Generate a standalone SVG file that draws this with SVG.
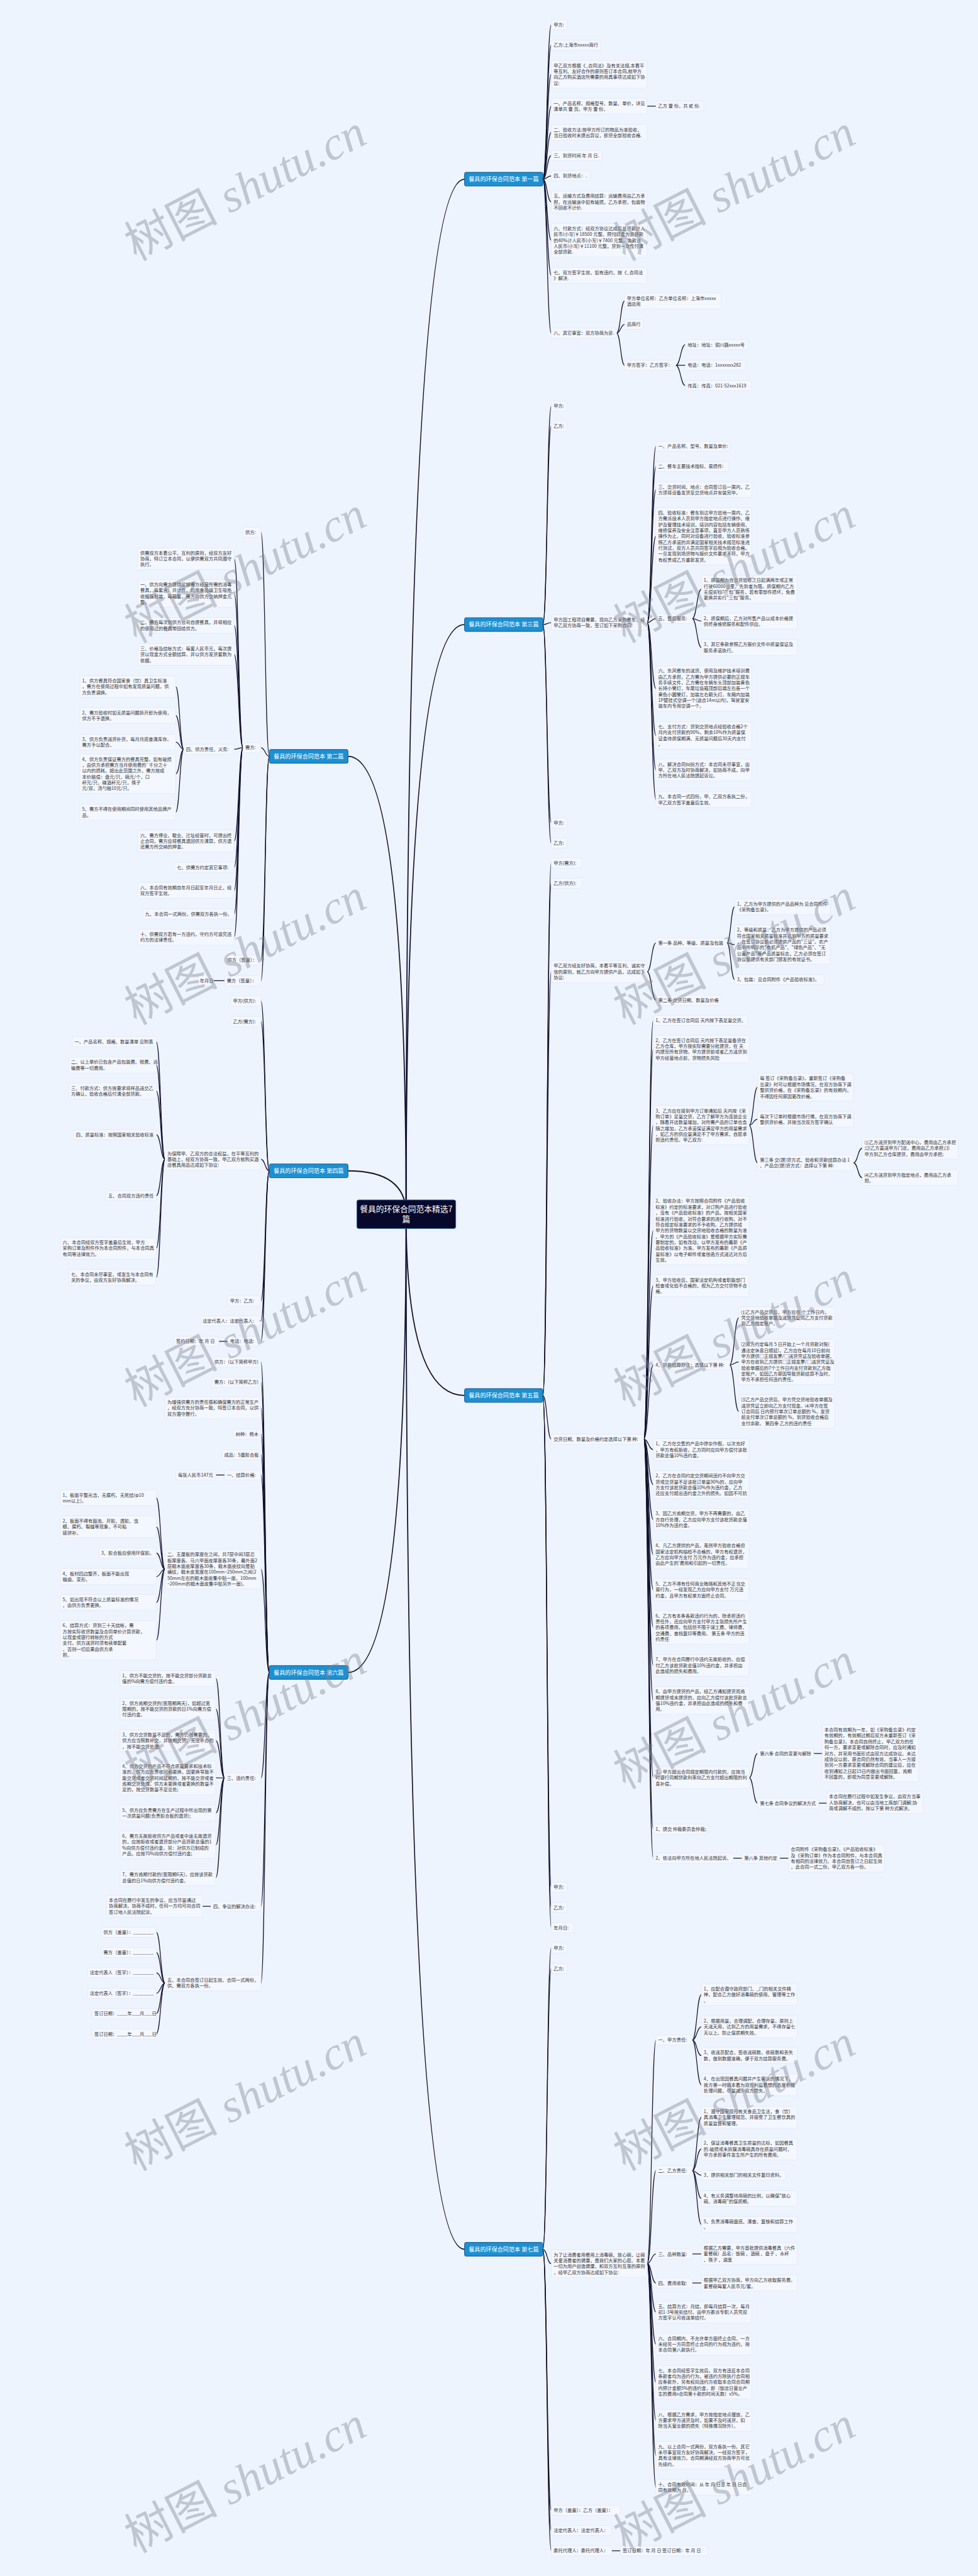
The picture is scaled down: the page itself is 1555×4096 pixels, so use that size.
<svg xmlns="http://www.w3.org/2000/svg" xmlns:xlink="http://www.w3.org/1999/xlink" width="1555" height="4096" viewBox="0 0 1555 4096">
<style>
.n rect{fill:#f3f7ff;stroke:#dde6f3;stroke-width:1;rx:4px}
.n text{font-family:"Noto Sans CJK SC","Noto Sans",sans-serif;font-size:12px;fill:#333}
.b rect{fill:#1d90d2;stroke:#0d4d80;stroke-width:1.5;rx:4px}
.b text{font-family:"Noto Sans CJK SC","Noto Sans",sans-serif;font-size:15px;fill:#fff;text-anchor:middle}
.c rect{fill:#08082a;stroke:#2d6db0;stroke-width:1.5;rx:5px}
.c text{font-family:"Noto Sans CJK SC","Noto Sans",sans-serif;font-size:21px;fill:#fff;text-anchor:middle}
.e path{fill:none;stroke:#12122e;stroke-width:2}
.m path{fill:none;stroke:#12122e;stroke-width:3}
.wm{font-family:"Liberation Serif","Noto Sans CJK SC",serif;font-size:122px;fill:#7d8390;opacity:0.4}
</style>
<defs>
<text id="wm" class="wm">树图 <tspan font-style="italic">shutu.cn</tspan></text>
</defs>
<rect width="1555" height="4096" fill="#eef4fe"/>
<g transform="scale(0.607422)">
<g id="connectors">
<g class="m">
<path d="M1063 3178Q1063 469 1216 469"/>
<path d="M1063 3178Q1063 1635 1216 1635"/>
<path d="M1063 3178Q1063 3653 1216 3653"/>
<path d="M1063 3178Q1063 5888 1216 5888"/>
<path d="M1063 3178Q1063 1980 911 1980"/>
<path d="M1063 3178Q1063 3065 911 3065"/>
<path d="M1063 3178Q1063 4378 911 4378"/>
</g>
<g class="e">
<path d="M1421 469C1432 469 1432 65.2 1443 65.2"/>
<path d="M1421 469C1432 469 1432 118.2 1443 118.2"/>
<path d="M1421 469C1432 469 1432 194.3 1443 194.3"/>
<path d="M1421 469C1432 469 1432 277.9 1443 277.9"/>
<path d="M1421 469C1432 469 1432 346.9 1443 346.9"/>
<path d="M1421 469C1432 469 1432 407.2 1443 407.2"/>
<path d="M1421 469C1432 469 1432 460.2 1443 460.2"/>
<path d="M1421 469C1432 469 1432 528.6 1443 528.6"/>
<path d="M1421 469C1432 469 1432 629 1443 629"/>
<path d="M1421 469C1432 469 1432 720.9 1443 720.9"/>
<path d="M1421 469C1432 469 1432 872.2 1443 872.2"/>
<path d="M1694 277.9H1717"/>
<path d="M1614 872.2C1624.5 872.2 1624.5 787.9 1635 787.9"/>
<path d="M1614 872.2C1624.5 872.2 1624.5 849.2 1635 849.2"/>
<path d="M1614 872.2C1624.5 872.2 1624.5 956.2 1635 956.2"/>
<path d="M1769 956.2C1781.5 956.2 1781.5 902.2 1794 902.2"/>
<path d="M1769 956.2H1794"/>
<path d="M1769 956.2C1781.5 956.2 1781.5 1009.2 1794 1009.2"/>

<path d="M1421 1635C1432 1635 1432 1063.2 1443 1063.2"/>
<path d="M1421 1635C1432 1635 1432 1115.2 1443 1115.2"/>
<path d="M1421 1635C1432 1635 1432 1629.9 1443 1629.9"/>
<path d="M1421 1635C1432 1635 1432 2154.2 1443 2154.2"/>
<path d="M1421 1635C1432 1635 1432 2207.2 1443 2207.2"/>
<path d="M1694 1629.9C1705.5 1629.9 1705.5 1168.2 1717 1168.2"/>
<path d="M1694 1629.9C1705.5 1629.9 1705.5 1221.2 1717 1221.2"/>
<path d="M1694 1629.9C1705.5 1629.9 1705.5 1281.9 1717 1281.9"/>
<path d="M1694 1629.9C1705.5 1629.9 1705.5 1403.8 1717 1403.8"/>
<path d="M1694 1629.9C1705.5 1629.9 1705.5 1619.2 1717 1619.2"/>
<path d="M1694 1629.9C1705.5 1629.9 1705.5 1802.4 1717 1802.4"/>
<path d="M1694 1629.9C1705.5 1629.9 1705.5 1925.3 1717 1925.3"/>
<path d="M1694 1629.9C1705.5 1629.9 1705.5 2015.6 1717 2015.6"/>
<path d="M1694 1629.9C1705.5 1629.9 1705.5 2092.9 1717 2092.9"/>
<path d="M1812 1619.2C1824 1619.2 1824 1542.3 1836 1542.3"/>
<path d="M1812 1619.2C1824 1619.2 1824 1625.9 1836 1625.9"/>
<path d="M1812 1619.2C1824 1619.2 1824 1694.9 1836 1694.9"/>

<path d="M1421 3653C1432 3653 1432 2259.2 1443 2259.2"/>
<path d="M1421 3653C1432 3653 1432 2312.2 1443 2312.2"/>
<path d="M1421 3653C1432 3653 1432 2543.6 1443 2543.6"/>
<path d="M1421 3653C1432 3653 1432 3767.2 1443 3767.2"/>
<path d="M1421 3653C1432 3653 1432 4940.2 1443 4940.2"/>
<path d="M1421 3653C1432 3653 1432 4993.2 1443 4993.2"/>
<path d="M1421 3653C1432 3653 1432 5046.2 1443 5046.2"/>
<path d="M1694 2543.6C1705.5 2543.6 1705.5 2468.2 1717 2468.2"/>
<path d="M1694 2543.6C1705.5 2543.6 1705.5 2618.2 1717 2618.2"/>
<path d="M1903 2468.2C1913 2468.2 1913 2373.9 1923 2373.9"/>
<path d="M1903 2468.2C1913 2468.2 1913 2472.7 1923 2472.7"/>
<path d="M1903 2468.2C1913 2468.2 1913 2564.2 1923 2564.2"/>
<path d="M1685 3767.2C1697.5 3767.2 1697.5 2671.2 1710 2671.2"/>
<path d="M1685 3767.2C1697.5 3767.2 1697.5 2746.3 1710 2746.3"/>
<path d="M1685 3767.2C1697.5 3767.2 1697.5 2945.7 1710 2945.7"/>
<path d="M1685 3767.2C1697.5 3767.2 1697.5 3221.2 1710 3221.2"/>
<path d="M1685 3767.2C1697.5 3767.2 1697.5 3365.6 1710 3365.6"/>
<path d="M1685 3767.2C1697.5 3767.2 1697.5 3573.2 1710 3573.2"/>
<path d="M1685 3767.2C1697.5 3767.2 1697.5 3794.6 1710 3794.6"/>
<path d="M1685 3767.2C1697.5 3767.2 1697.5 3886.3 1710 3886.3"/>
<path d="M1685 3767.2C1697.5 3767.2 1697.5 3977.6 1710 3977.6"/>
<path d="M1685 3767.2C1697.5 3767.2 1697.5 4069.3 1710 4069.3"/>
<path d="M1685 3767.2C1697.5 3767.2 1697.5 4161.6 1710 4161.6"/>
<path d="M1685 3767.2C1697.5 3767.2 1697.5 4260 1710 4260"/>
<path d="M1685 3767.2C1697.5 3767.2 1697.5 4359.6 1710 4359.6"/>
<path d="M1685 3767.2C1697.5 3767.2 1697.5 4451.3 1710 4451.3"/>
<path d="M1685 3767.2C1697.5 3767.2 1697.5 4653.6 1710 4653.6"/>
<path d="M1685 3767.2C1697.5 3767.2 1697.5 4788.2 1710 4788.2"/>
<path d="M1685 3767.2C1697.5 3767.2 1697.5 4864.2 1710 4864.2"/>
<path d="M1961 2945.7C1972 2945.7 1972 2846.3 1983 2846.3"/>
<path d="M1961 2945.7C1972 2945.7 1972 2929.9 1983 2929.9"/>
<path d="M1961 2945.7C1972 2945.7 1972 3043.9 1983 3043.9"/>
<path d="M2234 3043.9C2245.5 3043.9 2245.5 3005.6 2257 3005.6"/>
<path d="M2234 3043.9C2245.5 3043.9 2245.5 3082.9 2257 3082.9"/>
<path d="M1910 3573.2C1922 3573.2 1922 3449.6 1934 3449.6"/>
<path d="M1910 3573.2C1922 3573.2 1922 3565.4 1934 3565.4"/>
<path d="M1910 3573.2C1922 3573.2 1922 3695 1934 3695"/>
<path d="M1961 4653.6C1972 4653.6 1972 4590.2 1983 4590.2"/>
<path d="M1961 4653.6C1972 4653.6 1972 4720.2 1983 4720.2"/>
<path d="M2130 4590.2H2152"/>
<path d="M2143 4720.2H2164"/>
<path d="M1919 4864.2H1942"/>
<path d="M2041 4864.2H2064"/>

<path d="M1421 5888C1432 5888 1432 5099.2 1443 5099.2"/>
<path d="M1421 5888C1432 5888 1432 5153.2 1443 5153.2"/>
<path d="M1421 5888C1432 5888 1432 5925.3 1443 5925.3"/>
<path d="M1421 5888C1432 5888 1432 6571.2 1443 6571.2"/>
<path d="M1421 5888C1432 5888 1432 6624.2 1443 6624.2"/>
<path d="M1421 5888C1432 5888 1432 6677.2 1443 6677.2"/>
<path d="M1694 5925.3C1705.5 5925.3 1705.5 5340.2 1717 5340.2"/>
<path d="M1694 5925.3C1705.5 5925.3 1705.5 5682.2 1717 5682.2"/>
<path d="M1694 5925.3C1705.5 5925.3 1705.5 5900.2 1717 5900.2"/>
<path d="M1694 5925.3C1705.5 5925.3 1705.5 5976.2 1717 5976.2"/>
<path d="M1694 5925.3C1705.5 5925.3 1705.5 6052.6 1717 6052.6"/>
<path d="M1694 5925.3C1705.5 5925.3 1705.5 6136.6 1717 6136.6"/>
<path d="M1694 5925.3C1705.5 5925.3 1705.5 6236 1717 6236"/>
<path d="M1694 5925.3C1705.5 5925.3 1705.5 6335.6 1717 6335.6"/>
<path d="M1694 5925.3C1705.5 5925.3 1705.5 6427.3 1717 6427.3"/>
<path d="M1694 5925.3C1705.5 5925.3 1705.5 6510.9 1717 6510.9"/>
<path d="M1812 5340.2C1824 5340.2 1824 5221.6 1836 5221.6"/>
<path d="M1812 5340.2C1824 5340.2 1824 5305.6 1836 5305.6"/>
<path d="M1812 5340.2C1824 5340.2 1824 5380.9 1836 5380.9"/>
<path d="M1812 5340.2C1824 5340.2 1824 5457.6 1836 5457.6"/>
<path d="M1812 5682.2C1824 5682.2 1824 5542.6 1836 5542.6"/>
<path d="M1812 5682.2C1824 5682.2 1824 5625.6 1836 5625.6"/>
<path d="M1812 5682.2C1824 5682.2 1824 5694.2 1836 5694.2"/>
<path d="M1812 5682.2C1824 5682.2 1824 5754.9 1836 5754.9"/>
<path d="M1812 5682.2C1824 5682.2 1824 5822.9 1836 5822.9"/>
<path d="M1812 5900.2H1836"/>
<path d="M1812 5976.2H1836"/>
<path d="M1601 6677.2H1624"/>

<path d="M705 1980C694 1980 694 1393.2 683 1393.2"/>
<path d="M705 1980C694 1980 694 1957.2 683 1957.2"/>
<path d="M705 1980C694 1980 694 2513.2 683 2513.2"/>
<path d="M705 1980C694 1980 694 2567.2 683 2567.2"/>
<path d="M636 1957.2C624.5 1957.2 624.5 1462.6 613 1462.6"/>
<path d="M636 1957.2C624.5 1957.2 624.5 1553.3 613 1553.3"/>
<path d="M636 1957.2C624.5 1957.2 624.5 1636.9 613 1636.9"/>
<path d="M636 1957.2C624.5 1957.2 624.5 1713.6 613 1713.6"/>
<path d="M636 1957.2C624.5 1957.2 624.5 1961.2 613 1961.2"/>
<path d="M636 1957.2C624.5 1957.2 624.5 2201.6 613 2201.6"/>
<path d="M636 1957.2C624.5 1957.2 624.5 2270.2 613 2270.2"/>
<path d="M636 1957.2C624.5 1957.2 624.5 2330.9 613 2330.9"/>
<path d="M636 1957.2C624.5 1957.2 624.5 2392.2 613 2392.2"/>
<path d="M636 1957.2C624.5 1957.2 624.5 2452.9 613 2452.9"/>
<path d="M481 1961.2C470.5 1961.2 470.5 1797.6 460 1797.6"/>
<path d="M481 1961.2C470.5 1961.2 470.5 1872.9 460 1872.9"/>
<path d="M481 1961.2C470.5 1961.2 470.5 1942.9 460 1942.9"/>
<path d="M481 1961.2C470.5 1961.2 470.5 2025.7 460 2025.7"/>
<path d="M481 1961.2C470.5 1961.2 470.5 2125.9 460 2125.9"/>
<path d="M588 2567.2H559"/>

<path d="M705 3065C694 3065 694 2620.2 683 2620.2"/>
<path d="M705 3065C694 3065 694 2674.2 683 2674.2"/>
<path d="M705 3065C694 3065 694 3034.6 683 3034.6"/>
<path d="M705 3065C694 3065 694 3405.2 683 3405.2"/>
<path d="M705 3065C694 3065 694 3457.2 683 3457.2"/>
<path d="M705 3065C694 3065 694 3511.2 683 3511.2"/>
<path d="M432 3034.6C420.5 3034.6 420.5 2727.2 409 2727.2"/>
<path d="M432 3034.6C420.5 3034.6 420.5 2787.9 409 2787.9"/>
<path d="M432 3034.6C420.5 3034.6 420.5 2855.9 409 2855.9"/>
<path d="M432 3034.6C420.5 3034.6 420.5 2970.2 409 2970.2"/>
<path d="M432 3034.6C420.5 3034.6 420.5 3130.2 409 3130.2"/>
<path d="M432 3034.6C420.5 3034.6 420.5 3267.6 409 3267.6"/>
<path d="M432 3034.6C420.5 3034.6 420.5 3343.9 409 3343.9"/>
<path d="M596 3511.2H573"/>

<path d="M705 4378C694 4378 694 3565.2 683 3565.2"/>
<path d="M705 4378C694 4378 694 3618.2 683 3618.2"/>
<path d="M705 4378C694 4378 694 3685.6 683 3685.6"/>
<path d="M705 4378C694 4378 694 3754.2 683 3754.2"/>
<path d="M705 4378C694 4378 694 3808.2 683 3808.2"/>
<path d="M705 4378C694 4378 694 3861.2 683 3861.2"/>
<path d="M705 4378C694 4378 694 4107.7 683 4107.7"/>
<path d="M705 4378C694 4378 694 4654.2 683 4654.2"/>
<path d="M705 4378C694 4378 694 4990.2 683 4990.2"/>
<path d="M705 4378C694 4378 694 5190.9 683 5190.9"/>
<path d="M588 3861.2H565"/>
<path d="M432 4107.7C420.5 4107.7 420.5 3920.9 409 3920.9"/>
<path d="M432 4107.7C420.5 4107.7 420.5 3996.6 409 3996.6"/>
<path d="M432 4107.7C420.5 4107.7 420.5 4065.2 409 4065.2"/>
<path d="M432 4107.7C420.5 4107.7 420.5 4126.9 409 4126.9"/>
<path d="M432 4107.7C420.5 4107.7 420.5 4194.9 409 4194.9"/>
<path d="M432 4107.7C420.5 4107.7 420.5 4293.7 409 4293.7"/>
<path d="M588 4654.2C576.5 4654.2 576.5 4393.9 565 4393.9"/>
<path d="M588 4654.2C576.5 4654.2 576.5 4473.6 565 4473.6"/>
<path d="M588 4654.2C576.5 4654.2 576.5 4556.6 565 4556.6"/>
<path d="M588 4654.2C576.5 4654.2 576.5 4654 565 4654"/>
<path d="M588 4654.2C576.5 4654.2 576.5 4745.9 565 4745.9"/>
<path d="M588 4654.2C576.5 4654.2 576.5 4829.3 565 4829.3"/>
<path d="M588 4654.2C576.5 4654.2 576.5 4914.9 565 4914.9"/>
<path d="M552 4990.2H530"/>
<path d="M432 5190.9C420.5 5190.9 420.5 5058.2 409 5058.2"/>
<path d="M432 5190.9C420.5 5190.9 420.5 5111.2 409 5111.2"/>
<path d="M432 5190.9C420.5 5190.9 420.5 5164.2 409 5164.2"/>
<path d="M432 5190.9C420.5 5190.9 420.5 5218.2 409 5218.2"/>
<path d="M432 5190.9C420.5 5190.9 420.5 5271.2 409 5271.2"/>
<path d="M432 5190.9C420.5 5190.9 420.5 5324.2 409 5324.2"/>
</g>
</g>

<g id="center" class="c"><rect x="934" y="3141" width="259" height="75"/><text><tspan x="1063.5" y="3172">餐具的环保合同范本精选7</tspan><tspan x="1063.5" y="3199">篇</tspan></text></g>

<g id="b1" class="b"><rect x="1216" y="451" width="205" height="36"/><text x="1318.5" y="474.5">餐具的环保合同范本 第一篇</text></g>
<g id="b3" class="b"><rect x="1216" y="1617" width="205" height="36"/><text x="1318.5" y="1640.5">餐具的环保合同范本 第三篇</text></g>
<g id="b5" class="b"><rect x="1216" y="3635" width="205" height="36"/><text x="1318.5" y="3658.5">餐具的环保合同范本 第五篇</text></g>
<g id="b7" class="b"><rect x="1216" y="5870" width="205" height="36"/><text x="1318.5" y="5893.5">餐具的环保合同范本 第七篇</text></g>
<g id="b2" class="b"><rect x="705" y="1962" width="206" height="36"/><text x="808" y="1985.5">餐具的环保合同范本 第二篇</text></g>
<g id="b4" class="b"><rect x="705" y="3047" width="206" height="36"/><text x="808" y="3070.5">餐具的环保合同范本 第四篇</text></g>
<g id="b6" class="b"><rect x="705" y="4360" width="206" height="36"/><text x="808" y="4383.5">餐具的环保合同范本 第六篇</text></g>

<!-- Article 1 -->
<g id="a1-1" class="n" transform="translate(1443,52)"><rect width="42" height="26.4"/><text><tspan x="6" y="17.5">甲方:</tspan></text></g>
<g id="a1-2" class="n" transform="translate(1443,105)"><rect width="129" height="26.4"/><text><tspan x="6" y="17.5">乙方:上海市xxxxx商行</tspan></text></g>
<g id="a1-3" class="n" transform="translate(1443,158)"><rect width="251" height="72.6"/><text><tspan x="6" y="17.5">甲乙双方根据《_合同法》及有关法规,本着平</tspan><tspan x="6" dy="15.4">等互利、友好合作的原则签订本合同,就甲方</tspan><tspan x="6" dy="15.4">向乙方购买酒店所需要的用具事项达成如下协</tspan><tspan x="6" dy="15.4">议:</tspan></text></g>
<g id="a1-4" class="n" transform="translate(1443,257)"><rect width="251" height="41.8"/><text><tspan x="6" y="17.5">一、产品名称、规格型号、数量、单价，详见</tspan><tspan x="6" dy="15.4">清单共 壹 页。甲方 壹 份，</tspan></text></g>
<g id="a1-4a" class="n" transform="translate(1717,264.7)"><rect width="125" height="26.4"/><text><tspan x="6" y="17.5">乙方 壹 份，共 贰 份.</tspan></text></g>
<g id="a1-5" class="n" transform="translate(1443,326)"><rect width="251" height="41.8"/><text><tspan x="6" y="17.5">二、验收方法:按甲方所订的物品为准验收，</tspan><tspan x="6" dy="15.4">当日验收时未提出异议，即货全部验收合格.</tspan></text></g>
<g id="a1-6" class="n" transform="translate(1443,394)"><rect width="133" height="26.4"/><text><tspan x="6" y="17.5">三、到货时间 年 月 日.</tspan></text></g>
<g id="a1-7" class="n" transform="translate(1443,447)"><rect width="102" height="26.4"/><text><tspan x="6" y="17.5">四、到货地点：.</tspan></text></g>
<g id="a1-8" class="n" transform="translate(1443,500)"><rect width="251" height="57.2"/><text><tspan x="6" y="17.5">五、运输方式及费用结算：运输费用由乙方承</tspan><tspan x="6" dy="15.4">担，在运输途中如有破损，乙方承担，包装物</tspan><tspan x="6" dy="15.4">不回收不计价.</tspan></text></g>
<g id="a1-9" class="n" transform="translate(1443,585)"><rect width="251" height="88"/><text><tspan x="6" y="17.5">六、付款方式：经双方协议达成后总货款计人</tspan><tspan x="6" dy="15.4">民币(小写)￥18500 元整。预付订金为总货款</tspan><tspan x="6" dy="15.4">的40%计人民币(小写)￥7400 元整，余款计</tspan><tspan x="6" dy="15.4">人民币(小写)￥11100 元整，货到一次性付清</tspan><tspan x="6" dy="15.4">全部货款.</tspan></text></g>
<g id="a1-10" class="n" transform="translate(1443,700)"><rect width="251" height="41.8"/><text><tspan x="6" y="17.5">七、双方签字生效，如有违约，按《_合同法</tspan><tspan x="6" dy="15.4">》解决.</tspan></text></g>
<g id="a1-11" class="n" transform="translate(1443,859)"><rect width="171" height="26.4"/><text><tspan x="6" y="17.5">八、其它事宜：双方协商为妥.</tspan></text></g>
<g id="a1-11a" class="n" transform="translate(1635,767)"><rect width="252" height="41.8"/><text><tspan x="6" y="17.5">甲方单位名称：乙方单位名称：上海市xxxxx</tspan><tspan x="6" dy="15.4">酒店用</tspan></text></g>
<g id="a1-11b" class="n" transform="translate(1635,836)"><rect width="49" height="26.4"/><text><tspan x="6" y="17.5">品商行</tspan></text></g>
<g id="a1-11c" class="n" transform="translate(1635,943)"><rect width="134" height="26.4"/><text><tspan x="6" y="17.5">甲方签字：乙方签字：</tspan></text></g>
<g id="a1-11c1" class="n" transform="translate(1794,889)"><rect width="164" height="26.4"/><text><tspan x="6" y="17.5">地址：地址：铜川路xxxxx号</tspan></text></g>
<g id="a1-11c2" class="n" transform="translate(1794,943)"><rect width="157" height="26.4"/><text><tspan x="6" y="17.5">电话：电话：1xxxxxxx282</tspan></text></g>
<g id="a1-11c3" class="n" transform="translate(1794,996)"><rect width="173" height="26.4"/><text><tspan x="6" y="17.5">传真：传真：021-52xxx1619</tspan></text></g>

<!-- Article 3 -->
<g id="a3-1" class="n" transform="translate(1443,1050)"><rect width="42" height="26.4"/><text><tspan x="6" y="17.5">甲方:</tspan></text></g>
<g id="a3-2" class="n" transform="translate(1443,1102)"><rect width="42" height="26.4"/><text><tspan x="6" y="17.5">乙方:</tspan></text></g>
<g id="a3-3" class="n" transform="translate(1443,1609)"><rect width="251" height="41.8"/><text><tspan x="6" y="17.5">甲方因工程项目需要，现向乙方采购餐车，经</tspan><tspan x="6" dy="15.4">甲乙双方协商一致，签订如下采购合同:</tspan></text></g>
<g id="a3-3a" class="n" transform="translate(1717,1155)"><rect width="194" height="26.4"/><text><tspan x="6" y="17.5">一、产品名称、型号、数量及单价:</tspan></text></g>
<g id="a3-3b" class="n" transform="translate(1717,1208)"><rect width="191" height="26.4"/><text><tspan x="6" y="17.5">二、餐车主要技术指标、易损件:</tspan></text></g>
<g id="a3-3c" class="n" transform="translate(1717,1261)"><rect width="251" height="41.8"/><text><tspan x="6" y="17.5">三、交货时间、地点：合同签订后一周内，乙</tspan><tspan x="6" dy="15.4">方须将设备发货至交货地点并安装完毕。</tspan></text></g>
<g id="a3-3d" class="n" transform="translate(1717,1329)"><rect width="251" height="149.6"/><text><tspan x="6" y="17.5">四、验收标准：餐车到达甲方驻地一周内，乙</tspan><tspan x="6" dy="15.4">方需派技术人员到甲方指定地点进行操作、维</tspan><tspan x="6" dy="15.4">护及管理技术培训，培训内容包括车辆使用、</tspan><tspan x="6" dy="15.4">维修保养及安全注意事项，直至甲方人员熟练</tspan><tspan x="6" dy="15.4">操作为止。同时对设备进行验收，验收标准参</tspan><tspan x="6" dy="15.4">照乙方承诺的并满足国家相关技术规范标准进</tspan><tspan x="6" dy="15.4">行测试，双方人员共同签字后视为验收合格。</tspan><tspan x="6" dy="15.4">一旦发现到场货物与报价文件要求不符，甲方</tspan><tspan x="6" dy="15.4">有权责成乙方重新发货。</tspan></text></g>
<g id="a3-3e" class="n" transform="translate(1717,1606)"><rect width="95" height="26.4"/><text><tspan x="6" y="17.5">五、售后服务:</tspan></text></g>
<g id="a3-3e1" class="n" transform="translate(1836,1506)"><rect width="251" height="72.6"/><text><tspan x="6" y="17.5">1、质保期为自交货验收之日起满两年或正常</tspan><tspan x="6" dy="15.4">行驶60000公里，先到者为限。质保期内乙方</tspan><tspan x="6" dy="15.4">无偿实行"三包"服务，若有零部件损坏，免费</tspan><tspan x="6" dy="15.4">更换并实行"三包"服务。</tspan></text></g>
<g id="a3-3e2" class="n" transform="translate(1836,1605)"><rect width="251" height="41.8"/><text><tspan x="6" y="17.5">2、质保期后，乙方对所售产品以成本价格提</tspan><tspan x="6" dy="15.4">供终身维修服务和配件供应。</tspan></text></g>
<g id="a3-3e3" class="n" transform="translate(1836,1674)"><rect width="251" height="41.8"/><text><tspan x="6" y="17.5">3、其它条款参照乙方报价文件中质量保证及</tspan><tspan x="6" dy="15.4">服务承诺执行。</tspan></text></g>
<g id="a3-3f" class="n" transform="translate(1717,1743)"><rect width="251" height="118.8"/><text><tspan x="6" y="17.5">六、东风餐车的送货、使用及维护技术培训费</tspan><tspan x="6" dy="15.4">由乙方承担，乙方需为甲方提供必要的正规车</tspan><tspan x="6" dy="15.4">务手续文件，乙方需在车辆车头顶部加装黄色</tspan><tspan x="6" dy="15.4">长排小警灯，车尾垃圾箱顶部后端左右各一个</tspan><tspan x="6" dy="15.4">黄色小圆警灯，加装左右箭头灯。车厢内加装</tspan><tspan x="6" dy="15.4">1P壁挂式空调一个(适合14m以内)，驾驶室安</tspan><tspan x="6" dy="15.4">装车内专用空调一个。</tspan></text></g>
<g id="a3-3g" class="n" transform="translate(1717,1889)"><rect width="251" height="72.6"/><text><tspan x="6" y="17.5">七、支付方式：货到交货地点经验收合格2个</tspan><tspan x="6" dy="15.4">月内支付货款的90%，剩余10%作为质量保</tspan><tspan x="6" dy="15.4">证金待质保期满、无质量问题后30天内支付</tspan><tspan x="6" dy="15.4">。</tspan></text></g>
<g id="a3-3h" class="n" transform="translate(1717,1987)"><rect width="251" height="57.2"/><text><tspan x="6" y="17.5">八、解决合同纠纷方式：本合同未尽事宜，由</tspan><tspan x="6" dy="15.4">甲、乙双方及时协商解决，如协商不成，向甲</tspan><tspan x="6" dy="15.4">方所在地人民法院提起诉讼。</tspan></text></g>
<g id="a3-3i" class="n" transform="translate(1717,2072)"><rect width="251" height="41.8"/><text><tspan x="6" y="17.5">九、本合同一式四份，甲、乙双方各执二份，</tspan><tspan x="6" dy="15.4">甲乙双方签字盖章后生效。</tspan></text></g>
<g id="a3-4" class="n" transform="translate(1443,2141)"><rect width="42" height="26.4"/><text><tspan x="6" y="17.5">甲方:</tspan></text></g>
<g id="a3-5" class="n" transform="translate(1443,2194)"><rect width="42" height="26.4"/><text><tspan x="6" y="17.5">乙方:</tspan></text></g>

<!-- Article 5 -->
<g id="a5-1" class="n" transform="translate(1443,2246)"><rect width="80" height="26.4"/><text><tspan x="6" y="17.5">甲方(需方):</tspan></text></g>
<g id="a5-2" class="n" transform="translate(1443,2299)"><rect width="80" height="26.4"/><text><tspan x="6" y="17.5">乙方(供方):</tspan></text></g>
<g id="a5-3" class="n" transform="translate(1443,2515)"><rect width="251" height="57.2"/><text><tspan x="6" y="17.5">甲乙双方经友好协商，本着平等互利、诚实守</tspan><tspan x="6" dy="15.4">信的原则，就乙方向甲方提供产品，达成如下</tspan><tspan x="6" dy="15.4">协议:</tspan></text></g>
<g id="a5-3a" class="n" transform="translate(1717,2455)"><rect width="186" height="26.4"/><text><tspan x="6" y="17.5">第一条 品种、等级、质量及包装</tspan></text></g>
<g id="a5-3a1" class="n" transform="translate(1923,2353)"><rect width="251" height="41.8"/><text><tspan x="6" y="17.5">1、乙方为甲方提供的产品品种为 见合同附件</tspan><tspan x="6" dy="15.4">《采购备忘录》。</tspan></text></g>
<g id="a5-3a2" class="n" transform="translate(1923,2421)"><rect width="251" height="103.4"/><text><tspan x="6" y="17.5">2、等级和质量：乙方为甲方提供的产品必须</tspan><tspan x="6" dy="15.4">符合国家相关质量标准并达到甲方的质量要求</tspan><tspan x="6" dy="15.4">，在签订协议前必须提供产品的"三证"。农产</tspan><tspan x="6" dy="15.4">品中所明示的"有机产品"、"绿色产品"、"无</tspan><tspan x="6" dy="15.4">公害产品"等产品质量标志，乙方必须在签订</tspan><tspan x="6" dy="15.4">协议前提供有关部门颁发的有效证书。</tspan></text></g>
<g id="a5-3a3" class="n" transform="translate(1923,2551)"><rect width="234" height="26.4"/><text><tspan x="6" y="17.5">3、包装：见合同附件《产品验收标准》。</tspan></text></g>
<g id="a5-3b" class="n" transform="translate(1717,2605)"><rect width="171" height="26.4"/><text><tspan x="6" y="17.5">第二条 交货日期、数量及价格</tspan></text></g>
<g id="a5-4" class="n" transform="translate(1443,3754)"><rect width="242" height="26.4"/><text><tspan x="6" y="17.5">交货日期、数量及价格约定选择以下第 种:</tspan></text></g>
<g id="a5-4a" class="n" transform="translate(1710,2658)"><rect width="248" height="26.4"/><text><tspan x="6" y="17.5">1、乙方在签订合同后 天内按下表足量交货。</tspan></text></g>
<g id="a5-4b" class="n" transform="translate(1710,2710)"><rect width="251" height="72.6"/><text><tspan x="6" y="17.5">2、乙方在签订合同后 天内按下表足量备货在</tspan><tspan x="6" dy="15.4">乙方仓库，甲方按实际需要分批提货，在 天</tspan><tspan x="6" dy="15.4">内提完所有货物。甲方提货前或者乙方送货到</tspan><tspan x="6" dy="15.4">甲方经营地点前，货物损失风险</tspan></text></g>
<g id="a5-4c" class="n" transform="translate(1710,2894)"><rect width="251" height="103.4"/><text><tspan x="6" y="17.5">3、乙方应在接到甲方订单通知后 天内按《采</tspan><tspan x="6" dy="15.4">购订单》足量交货，乙方了解甲方为连锁企业</tspan><tspan x="6" dy="15.4">，随着开店数量增加，对所需产品的订单也会</tspan><tspan x="6" dy="15.4">随之增加，乙方承诺保证满足甲方的用量需求</tspan><tspan x="6" dy="15.4">，如乙方的供应量满足不了甲方需求，自愿承</tspan><tspan x="6" dy="15.4">担违约责任。甲乙双方:</tspan></text></g>
<g id="a5-4c1" class="n" transform="translate(1983,2810)"><rect width="251" height="72.6"/><text><tspan x="6" y="17.5">每 签订《采购备忘录》，重新签订《采购备</tspan><tspan x="6" dy="15.4">忘录》时可以根据市场情况，在双方协商下调</tspan><tspan x="6" dy="15.4">整供货价格，在《采购备忘录》的有效期内，</tspan><tspan x="6" dy="15.4">不得因任何原因更改价格。</tspan></text></g>
<g id="a5-4c2" class="n" transform="translate(1983,2909)"><rect width="251" height="41.8"/><text><tspan x="6" y="17.5">每次下订单时根据市场行情，在双方协商下调</tspan><tspan x="6" dy="15.4">整供货价格，并按当次双方签字确认</tspan></text></g>
<g id="a5-4c3" class="n" transform="translate(1983,3023)"><rect width="251" height="41.8"/><text><tspan x="6" y="17.5">第三条 交(提)货方式、验收和货款结算办法 1</tspan><tspan x="6" dy="15.4">、产品交(提)货方式：选择以下第 种:</tspan></text></g>
<g id="a5-4c3a" class="n" transform="translate(2257,2977)"><rect width="251" height="57.2"/><text><tspan x="6" y="17.5">⑴乙方送货到甲方配送中心，费用由乙方承担</tspan><tspan x="6" dy="15.4">;⑵乙方直送甲方门店，费用由乙方承担;⑶</tspan><tspan x="6" dy="15.4">甲方到乙方仓库提货，费用由甲方承担;</tspan></text></g>
<g id="a5-4c3b" class="n" transform="translate(2257,3062)"><rect width="251" height="41.8"/><text><tspan x="6" y="17.5">⑷乙方送货到甲方指定地点，费用由乙方承</tspan><tspan x="6" dy="15.4">担。</tspan></text></g>
<g id="a5-4d" class="n" transform="translate(1710,3131)"><rect width="251" height="180.4"/><text><tspan x="6" y="17.5">2、验收办法：甲方按照合同附件《产品验收</tspan><tspan x="6" dy="15.4">标准》约定的标准要求，对订购产品进行验收</tspan><tspan x="6" dy="15.4">，没有《产品验收标准》的产品，按相关国家</tspan><tspan x="6" dy="15.4">标准进行验收，对符合要求的进行收购，对不</tspan><tspan x="6" dy="15.4">符合规定标准要求的不予收购。乙方提供给</tspan><tspan x="6" dy="15.4">甲方的货物数量以交货地验收合格的数量为准</tspan><tspan x="6" dy="15.4">。甲方的《产品验收标准》是根据甲方实际需</tspan><tspan x="6" dy="15.4">要制定的，如有改动，以甲方发布的最新《产</tspan><tspan x="6" dy="15.4">品验收标准》为准。甲方发布的最新《产品质</tspan><tspan x="6" dy="15.4">量标准》以电子邮件或者信函方式送达对方后</tspan><tspan x="6" dy="15.4">生效。</tspan></text></g>
<g id="a5-4e" class="n" transform="translate(1710,3337)"><rect width="251" height="57.2"/><text><tspan x="6" y="17.5">3、甲方验收后，国家法定机构或者职能部门</tspan><tspan x="6" dy="15.4">检查或化验不合格的，视为乙方交付货物不合</tspan><tspan x="6" dy="15.4">格。</tspan></text></g>
<g id="a5-4f" class="n" transform="translate(1710,3560)"><rect width="200" height="26.4"/><text><tspan x="6" y="17.5">4、货款结算办法：选择以下第 种:</tspan></text></g>
<g id="a5-4f1" class="n" transform="translate(1934,3421)"><rect width="251" height="57.2"/><text><tspan x="6" y="17.5">⑴乙方产品交货后，甲方应在 个工作日内，</tspan><tspan x="6" dy="15.4">凭交货地验收单据及送货凭证向乙方支付货款</tspan><tspan x="6" dy="15.4">到乙方指定账户。</tspan></text></g>
<g id="a5-4f2" class="n" transform="translate(1934,3506)"><rect width="251" height="118.8"/><text><tspan x="6" y="17.5">⑵双方约定每月 5 日开始上一个月货款对账(</tspan><tspan x="6" dy="15.4">遇法定休息日顺延)，乙方应在每月10日前向</tspan><tspan x="6" dy="15.4">甲方提供□正规发票/□送货凭证及验收单据，</tspan><tspan x="6" dy="15.4">甲方在收到乙方提供□正规发票/□送货凭证及</tspan><tspan x="6" dy="15.4">验收单据后的7个工作日内支付货款到乙方指</tspan><tspan x="6" dy="15.4">定账户。如因乙方原因导致货款结算不及时，</tspan><tspan x="6" dy="15.4">甲方不承担任何违约责任。</tspan></text></g>
<g id="a5-4f3" class="n" transform="translate(1934,3651)"><rect width="251" height="88"/><text><tspan x="6" y="17.5">⑶乙方产品交货后，甲方凭交货地验收单据及</tspan><tspan x="6" dy="15.4">送货凭证立即向乙方支付现金。⑷甲方在签</tspan><tspan x="6" dy="15.4">订合同后 日内预付单次订单总额的 %，发货</tspan><tspan x="6" dy="15.4">前支付单次订单总额的 %，到货验收合格后</tspan><tspan x="6" dy="15.4">支付余款。 第四条 乙方的违约责任</tspan></text></g>
<g id="a5-4g" class="n" transform="translate(1710,3766)"><rect width="251" height="57.2"/><text><tspan x="6" y="17.5">1、乙方在交售的产品中掺杂作假，以次充好</tspan><tspan x="6" dy="15.4">，甲方有权拒收，乙方同时应向甲方偿付该批</tspan><tspan x="6" dy="15.4">货款总值10%违约金。</tspan></text></g>
<g id="a5-4h" class="n" transform="translate(1710,3850)"><rect width="251" height="72.6"/><text><tspan x="6" y="17.5">2、乙方在合同约定交货期间违约不向甲方交</tspan><tspan x="6" dy="15.4">货或交货量不足该批订单量90%的，应向甲</tspan><tspan x="6" dy="15.4">方支付该批货款总值10%作为违约金，乙方</tspan><tspan x="6" dy="15.4">还应支付超出违约金之外的损失。如因不可抗</tspan></text></g>
<g id="a5-4i" class="n" transform="translate(1710,3949)"><rect width="251" height="57.2"/><text><tspan x="6" y="17.5">3、因乙方逾期交货，甲方不再需要的，由乙</tspan><tspan x="6" dy="15.4">方自行处理，乙方应向甲方支付该批货款总值</tspan><tspan x="6" dy="15.4">10%作为违约金。</tspan></text></g>
<g id="a5-4j" class="n" transform="translate(1710,4033)"><rect width="251" height="72.6"/><text><tspan x="6" y="17.5">4、凡乙方提供的产品，虽然甲方验收合格但</tspan><tspan x="6" dy="15.4">国家法定机构抽检不合格的，甲方有权退货，</tspan><tspan x="6" dy="15.4">乙方应向甲方支付 万元作为违约金，应承担</tspan><tspan x="6" dy="15.4">由此产生的'费用和引起的一切责任。</tspan></text></g>
<g id="a5-4k" class="n" transform="translate(1710,4133)"><rect width="251" height="57.2"/><text><tspan x="6" y="17.5">5、乙方不得有任何商业贿赂和其他不正当交</tspan><tspan x="6" dy="15.4">易行为，一经发现乙方应向甲方支付 万元违</tspan><tspan x="6" dy="15.4">约金，且甲方有权单方面终止合同。</tspan></text></g>
<g id="a5-4l" class="n" transform="translate(1710,4216)"><rect width="251" height="88"/><text><tspan x="6" y="17.5">6、乙方有本条各款违约行为的，除承担违约</tspan><tspan x="6" dy="15.4">责任外，还应向甲方支付甲方主张损失所产生</tspan><tspan x="6" dy="15.4">的各项费用，包括但不限于误工费、律师费、</tspan><tspan x="6" dy="15.4">交通费、查档复印等费用。 第五条 甲方的违</tspan><tspan x="6" dy="15.4">约责任</tspan></text></g>
<g id="a5-4m" class="n" transform="translate(1710,4331)"><rect width="251" height="57.2"/><text><tspan x="6" y="17.5">7、甲方在合同履行中违约无故拒收的，应偿</tspan><tspan x="6" dy="15.4">付乙方该批货款总值10%违约金，并承担由</tspan><tspan x="6" dy="15.4">此造成的损失和费用。</tspan></text></g>
<g id="a5-4n" class="n" transform="translate(1710,4415)"><rect width="251" height="72.6"/><text><tspan x="6" y="17.5">8、由甲方提货的产品，经乙方通知提货而逾</tspan><tspan x="6" dy="15.4">期提货或未提货的，应向乙方偿付该批货款总</tspan><tspan x="6" dy="15.4">值10%违约金，并承担由此造成的损失和费</tspan><tspan x="6" dy="15.4">用。</tspan></text></g>
<g id="a5-4o" class="n" transform="translate(1710,4625)"><rect width="251" height="57.2"/><text><tspan x="6" y="17.5">9、甲方超出合同规定期限内付款的，应按当</tspan><tspan x="6" dy="15.4">时银行同期贷款利率向乙方支付超出期限的利</tspan><tspan x="6" dy="15.4">息补偿。</tspan></text></g>
<g id="a5-4o1" class="n" transform="translate(1983,4577)"><rect width="147" height="26.4"/><text><tspan x="6" y="17.5">第六条 合同的变更与解除</tspan></text></g>
<g id="a5-4o1a" class="n" transform="translate(2152,4515)"><rect width="252" height="149.6"/><text><tspan x="6" y="17.5">本合同有效期为一年，如《采购备忘录》约定</tspan><tspan x="6" dy="15.4">有效期的，有效期过期后双方未重新签订《采</tspan><tspan x="6" dy="15.4">购备忘录》，本合同自然终止。甲乙双方的任</tspan><tspan x="6" dy="15.4">何一方，要求变更或解除合同时，应及时通知</tspan><tspan x="6" dy="15.4">对方，并采用书面形式由双方达成协议。未达</tspan><tspan x="6" dy="15.4">成协议以前，原合同仍然有效。当事人一方接</tspan><tspan x="6" dy="15.4">到另一方要求变更或解除合同的建议后，应在</tspan><tspan x="6" dy="15.4">收到通知之日起15日内做出书面回复，逾期</tspan><tspan x="6" dy="15.4">不回复的，即视为同意变更或解除。</tspan></text></g>
<g id="a5-4o2" class="n" transform="translate(1983,4707)"><rect width="160" height="26.4"/><text><tspan x="6" y="17.5">第七条 合同争议的解决方式</tspan></text></g>
<g id="a5-4o2a" class="n" transform="translate(2164,4690)"><rect width="252" height="57.2"/><text><tspan x="6" y="17.5">本合同在履行过程中如发生争议，由双方当事</tspan><tspan x="6" dy="15.4">人协商解决，也可以由当地工商部门调解;协</tspan><tspan x="6" dy="15.4">商或调解不成的，按以下第 种方式解决。</tspan></text></g>
<g id="a5-4p" class="n" transform="translate(1710,4775)"><rect width="142" height="26.4"/><text><tspan x="6" y="17.5">1、提交 仲裁委员会仲裁;</tspan></text></g>
<g id="a5-4q" class="n" transform="translate(1710,4851)"><rect width="209" height="26.4"/><text><tspan x="6" y="17.5">2、依法向甲方所在地人民法院起诉。</tspan></text></g>
<g id="a5-4q1" class="n" transform="translate(1942,4851)"><rect width="99" height="26.4"/><text><tspan x="6" y="17.5">第八条 其他约定</tspan></text></g>
<g id="a5-4q1a" class="n" transform="translate(2064,4828)"><rect width="251" height="72.6"/><text><tspan x="6" y="17.5">合同附件《采购备忘录》、《产品验收标准》</tspan><tspan x="6" dy="15.4">及《采购订单》作为本合同附件，与本合同具</tspan><tspan x="6" dy="15.4">有相同的法律效力。本合同自签订之日起生效</tspan><tspan x="6" dy="15.4">，此合同一式二份，甲乙双方各一份。</tspan></text></g>
<g id="a5-5" class="n" transform="translate(1443,4927)"><rect width="42" height="26.4"/><text><tspan x="6" y="17.5">甲方:</tspan></text></g>
<g id="a5-6" class="n" transform="translate(1443,4980)"><rect width="42" height="26.4"/><text><tspan x="6" y="17.5">乙方:</tspan></text></g>
<g id="a5-7" class="n" transform="translate(1443,5033)"><rect width="60" height="26.4"/><text><tspan x="6" y="17.5">年月日:</tspan></text></g>

<!-- Article 7 -->
<g id="a7-1" class="n" transform="translate(1443,5086)"><rect width="42" height="26.4"/><text><tspan x="6" y="17.5">甲方:</tspan></text></g>
<g id="a7-2" class="n" transform="translate(1443,5140)"><rect width="42" height="26.4"/><text><tspan x="6" y="17.5">乙方:</tspan></text></g>
<g id="a7-3" class="n" transform="translate(1443,5889)"><rect width="251" height="72.6"/><text><tspan x="6" y="17.5">为了让消费者用餐用上消毒碗、放心碗，让碗</tspan><tspan x="6" dy="15.4">关爱消费者的健康，是我们大家的心愿。本着</tspan><tspan x="6" dy="15.4">一切为用户创造健康，和双方互利互惠的原则</tspan><tspan x="6" dy="15.4">，经甲乙双方协商达成如下协议:</tspan></text></g>
<g id="a7-3a" class="n" transform="translate(1717,5327)"><rect width="95" height="26.4"/><text><tspan x="6" y="17.5">一、甲方责任:</tspan></text></g>
<g id="a7-3a1" class="n" transform="translate(1836,5193)"><rect width="251" height="57.2"/><text><tspan x="6" y="17.5">1、应配合遵守政府部门、_门的相关文件精</tspan><tspan x="6" dy="15.4">神，配合乙方做好消毒碗的使用、管理等工作</tspan><tspan x="6" dy="15.4">。</tspan></text></g>
<g id="a7-3a2" class="n" transform="translate(1836,5277)"><rect width="251" height="57.2"/><text><tspan x="6" y="17.5">2、根据用量，合理调配，合理存量。原则上</tspan><tspan x="6" dy="15.4">天送天用，达到乙方的用量需求，不得存留七</tspan><tspan x="6" dy="15.4">天以上。防止保质期失效。</tspan></text></g>
<g id="a7-3a3" class="n" transform="translate(1836,5360)"><rect width="251" height="41.8"/><text><tspan x="6" y="17.5">3、收送员配合，签收送碗数、收碗数和丢失</tspan><tspan x="6" dy="15.4">数，做到数据准确，便于双方结算服务费。</tspan></text></g>
<g id="a7-3a4" class="n" transform="translate(1836,5429)"><rect width="251" height="57.2"/><text><tspan x="6" y="17.5">4、在出现因餐具问题并产生客诉的情况下，</tspan><tspan x="6" dy="15.4">我方第一时间本着为双方利益着想的态度积极</tspan><tspan x="6" dy="15.4">处理问题，尽量减少双方损失。</tspan></text></g>
<g id="a7-3b" class="n" transform="translate(1717,5669)"><rect width="95" height="26.4"/><text><tspan x="6" y="17.5">二、乙方责任:</tspan></text></g>
<g id="a7-3b1" class="n" transform="translate(1836,5514)"><rect width="251" height="57.2"/><text><tspan x="6" y="17.5">1、遵守国家现行有关食品卫生法，食（饮）</tspan><tspan x="6" dy="15.4">具消毒卫生管理规范，并接受了卫生餐饮具的</tspan><tspan x="6" dy="15.4">质量监督和管理。</tspan></text></g>
<g id="a7-3b2" class="n" transform="translate(1836,5597)"><rect width="251" height="57.2"/><text><tspan x="6" y="17.5">2、保证消毒餐具卫生质量的达标，如因餐具</tspan><tspan x="6" dy="15.4">的.破损或未拆膜消毒碗具存在质量问题时，</tspan><tspan x="6" dy="15.4">甲方承担事件发生所产生的所有费用。</tspan></text></g>
<g id="a7-3b3" class="n" transform="translate(1836,5681)"><rect width="221" height="26.4"/><text><tspan x="6" y="17.5">3、提供相关部门的相关文件复印资料。</tspan></text></g>
<g id="a7-3b4" class="n" transform="translate(1836,5734)"><rect width="251" height="41.8"/><text><tspan x="6" y="17.5">4、有义务调整待用碗的比例，以确保"放心</tspan><tspan x="6" dy="15.4">碗、消毒碗"的保质期。</tspan></text></g>
<g id="a7-3b5" class="n" transform="translate(1836,5802)"><rect width="251" height="41.8"/><text><tspan x="6" y="17.5">5、负责消毒碗盘底、清查、复核和结算工作</tspan><tspan x="6" dy="15.4">。</tspan></text></g>
<g id="a7-3c" class="n" transform="translate(1717,5887)"><rect width="95" height="26.4"/><text><tspan x="6" y="17.5">三、品种数量:</tspan></text></g>
<g id="a7-3c1" class="n" transform="translate(1836,5871)"><rect width="251" height="57.2"/><text><tspan x="6" y="17.5">根据乙方需要，甲方首批提供消毒餐具（六件</tspan><tspan x="6" dy="15.4">套餐碗）品名：饭碗 、酒碗 、盘子 、水杯</tspan><tspan x="6" dy="15.4">、筷子 、调羹</tspan></text></g>
<g id="a7-3d" class="n" transform="translate(1717,5963)"><rect width="95" height="26.4"/><text><tspan x="6" y="17.5">四、费用收取:</tspan></text></g>
<g id="a7-3d1" class="n" transform="translate(1836,5956)"><rect width="251" height="41.8"/><text><tspan x="6" y="17.5">根据甲乙双方协商，甲方向乙方收取服务费。</tspan><tspan x="6" dy="15.4">套餐碗每套人民币元/套。</tspan></text></g>
<g id="a7-3e" class="n" transform="translate(1717,6024)"><rect width="251" height="57.2"/><text><tspan x="6" y="17.5">五、结算方式：月结，即每月结算一次，每月</tspan><tspan x="6" dy="15.4">初1-3号按实结付。由甲方委派专职人员凭双</tspan><tspan x="6" dy="15.4">方签字认可收送单结付。</tspan></text></g>
<g id="a7-3f" class="n" transform="translate(1717,6108)"><rect width="251" height="57.2"/><text><tspan x="6" y="17.5">六、合同期内，不允许单方面终止合同，一方</tspan><tspan x="6" dy="15.4">未经另一方同意终止合同的行为视为违约，按</tspan><tspan x="6" dy="15.4">本合同第八款执行。</tspan></text></g>
<g id="a7-3g" class="n" transform="translate(1717,6192)"><rect width="251" height="88"/><text><tspan x="6" y="17.5">七、本合同经签字生效后，双方有违反本合同</tspan><tspan x="6" dy="15.4">条款者均为违约行为，被违约方除执行合同相</tspan><tspan x="6" dy="15.4">应条款外，另有权向违约方收取本合同合同期</tspan><tspan x="6" dy="15.4">内预计金额5%的违约金，即（饭店日营业产</tspan><tspan x="6" dy="15.4">生的费用x合同第十款的时间天数）x5%。</tspan></text></g>
<g id="a7-3h" class="n" transform="translate(1717,6307)"><rect width="251" height="57.2"/><text><tspan x="6" y="17.5">八、根据乙方需求，甲方按指定地点摆放。乙</tspan><tspan x="6" dy="15.4">方要求甲方送货及时，如果不及时送货，扣</tspan><tspan x="6" dy="15.4">除当天营业额的损失（特殊情况除外）。</tspan></text></g>
<g id="a7-3i" class="n" transform="translate(1717,6391)"><rect width="251" height="72.6"/><text><tspan x="6" y="17.5">九、以上合同一式两份，双方各执一份。其它</tspan><tspan x="6" dy="15.4">未尽事宜双方友好协商解决。一经双方签字，</tspan><tspan x="6" dy="15.4">具有法律效力。合同期满经双方协商甲方可优</tspan><tspan x="6" dy="15.4">先续约。</tspan></text></g>
<g id="a7-3j" class="n" transform="translate(1717,6490)"><rect width="251" height="41.8"/><text><tspan x="6" y="17.5">十、合同有效时间：从 年 月 日至 年 月 日合</tspan><tspan x="6" dy="15.4">同有效期为 月。</tspan></text></g>
<g id="a7-4" class="n" transform="translate(1443,6558)"><rect width="181" height="26.4"/><text><tspan x="6" y="17.5">甲方（盖章）：乙方（盖章）：</tspan></text></g>
<g id="a7-5" class="n" transform="translate(1443,6611)"><rect width="158" height="26.4"/><text><tspan x="6" y="17.5">法定代表人：法定代表人：</tspan></text></g>
<g id="a7-6" class="n" transform="translate(1443,6664)"><rect width="158" height="26.4"/><text><tspan x="6" y="17.5">委托代理人：委托代理人：</tspan></text></g>
<g id="a7-6a" class="n" transform="translate(1624,6664)"><rect width="228" height="26.4"/><text><tspan x="6" y="17.5">签订日期：年 月 日 签订日期：年 月 日</tspan></text></g>

<!-- Article 2 -->
<g id="a2-1" class="n" transform="translate(636,1380)"><rect width="47" height="26.4"/><text><tspan x="6" y="17.5">供方:</tspan></text></g>
<g id="a2-2" class="n" transform="translate(636,1944)"><rect width="47" height="26.4"/><text><tspan x="6" y="17.5">需方:</tspan></text></g>
<g id="a2-2a" class="n" transform="translate(361,1434)"><rect width="252" height="57.2"/><text><tspan x="6" y="17.5">供需双方本着公平、互利的原则，经双方友好</tspan><tspan x="6" dy="15.4">协商，特订立本合同，以便供需双方共同遵守</tspan><tspan x="6" dy="15.4">执行。</tspan></text></g>
<g id="a2-2b" class="n" transform="translate(361,1517)"><rect width="252" height="72.6"/><text><tspan x="6" y="17.5">一、供方向需方提供足够需方经营所需的消毒</tspan><tspan x="6" dy="15.4">餐具，每套含：共计件，均用食品级卫生吸热</tspan><tspan x="6" dy="15.4">收缩膜封装，每箱套，需方向供方交纳押金元</tspan><tspan x="6" dy="15.4">整。</tspan></text></g>
<g id="a2-2c" class="n" transform="translate(361,1616)"><rect width="252" height="41.8"/><text><tspan x="6" y="17.5">二、需方每次到供方公司自提餐具，并将相应</tspan><tspan x="6" dy="15.4">的使用过的餐具带回给供方。</tspan></text></g>
<g id="a2-2d" class="n" transform="translate(361,1685)"><rect width="252" height="57.2"/><text><tspan x="6" y="17.5">三、价格及结帐方式：每套人民币元，每次提</tspan><tspan x="6" dy="15.4">货以现金方式全额结算，并以供方发货套数为</tspan><tspan x="6" dy="15.4">依据。</tspan></text></g>
<g id="a2-2e" class="n" transform="translate(481,1948)"><rect width="132" height="26.4"/><text><tspan x="6" y="17.5">四、供方责任、义务:</tspan></text></g>
<g id="a2-2e1" class="n" transform="translate(209,1769)"><rect width="251" height="57.2"/><text><tspan x="6" y="17.5">1、供方餐具符合国家食（饮）具卫生标准</tspan><tspan x="6" dy="15.4">，需方在使用过程中如有发现质量问题，供</tspan><tspan x="6" dy="15.4">方负责调换。</tspan></text></g>
<g id="a2-2e2" class="n" transform="translate(209,1852)"><rect width="251" height="41.8"/><text><tspan x="6" y="17.5">2、需方验收时如无质量问题拆开即为使用，</tspan><tspan x="6" dy="15.4">供方不予退换。</tspan></text></g>
<g id="a2-2e3" class="n" transform="translate(209,1922)"><rect width="251" height="41.8"/><text><tspan x="6" y="17.5">3、供方负责送货补货，每月月底查清库存。</tspan><tspan x="6" dy="15.4">需方予以配合。</tspan></text></g>
<g id="a2-2e4" class="n" transform="translate(209,1974)"><rect width="251" height="103.4"/><text><tspan x="6" y="17.5">4、供方负责保证需方的餐具完整。如有破损</tspan><tspan x="6" dy="15.4">，由供方承担需方当月使用费的`千分之十</tspan><tspan x="6" dy="15.4">以内的损耗，超出此范围之外，需方按成</tspan><tspan x="6" dy="15.4">本价赔偿：盘元/只，碗元/个，口</tspan><tspan x="6" dy="15.4">杯元/只，碟酒杯元/只，筷子</tspan><tspan x="6" dy="15.4">元/双，汤勺赔10元/只。</tspan></text></g>
<g id="a2-2e5" class="n" transform="translate(209,2105)"><rect width="251" height="41.8"/><text><tspan x="6" y="17.5">5、需方不得在使用期间同时使用其他品牌产</tspan><tspan x="6" dy="15.4">品。</tspan></text></g>
<g id="a2-2f" class="n" transform="translate(361,2173)"><rect width="252" height="57.2"/><text><tspan x="6" y="17.5">六、需方停业、歇业、迁址经营时，可提出终</tspan><tspan x="6" dy="15.4">止合同，需方应将餐具退回供方清算，供方退</tspan><tspan x="6" dy="15.4">还需方所交纳的押金。</tspan></text></g>
<g id="a2-2g" class="n" transform="translate(457,2257)"><rect width="156" height="26.4"/><text><tspan x="6" y="17.5">七、供需方约定其它事项:</tspan></text></g>
<g id="a2-2h" class="n" transform="translate(361,2310)"><rect width="252" height="41.8"/><text><tspan x="6" y="17.5">八、本合同有效期自年月日起至年月日止，经</tspan><tspan x="6" dy="15.4">双方签字生效。</tspan></text></g>
<g id="a2-2i" class="n" transform="translate(374,2379)"><rect width="239" height="26.4"/><text><tspan x="6" y="17.5">九、本合同一式两份，供需双方各执一份。</tspan></text></g>
<g id="a2-2j" class="n" transform="translate(361,2432)"><rect width="252" height="41.8"/><text><tspan x="6" y="17.5">十、供需双方若有一方违约，守约方可追究违</tspan><tspan x="6" dy="15.4">约方的法律责任。</tspan></text></g>
<g id="a2-3" class="n" transform="translate(589,2500)"><rect width="94" height="26.4"/><text><tspan x="6" y="17.5">供方（签章）：</tspan></text></g>
<g id="a2-4" class="n" transform="translate(588,2554)"><rect width="95" height="26.4"/><text><tspan x="6" y="17.5">需方（签章）：</tspan></text></g>
<g id="a2-4a" class="n" transform="translate(517,2554)"><rect width="42" height="26.4"/><text><tspan x="6" y="17.5">年月日</tspan></text></g>

<!-- Article 4 -->
<g id="a4-1" class="n" transform="translate(604,2607)"><rect width="79" height="26.4"/><text><tspan x="6" y="17.5">甲方(供方):</tspan></text></g>
<g id="a4-2" class="n" transform="translate(604,2661)"><rect width="79" height="26.4"/><text><tspan x="6" y="17.5">乙方(需方):</tspan></text></g>
<g id="a4-3" class="n" transform="translate(432,3006)"><rect width="251" height="57.2"/><text><tspan x="6" y="17.5">为保障甲、乙双方的合法权益，在平等互利的</tspan><tspan x="6" dy="15.4">基础上，经双方协商一致，甲乙双方就购买酒</tspan><tspan x="6" dy="15.4">店餐具用品达成如下协议:</tspan></text></g>
<g id="a4-3a" class="n" transform="translate(189,2714)"><rect width="220" height="26.4"/><text><tspan x="6" y="17.5">一、产品名称、规格、数量清单 见附表</tspan></text></g>
<g id="a4-3b" class="n" transform="translate(180,2767)"><rect width="229" height="41.8"/><text><tspan x="6" y="17.5">二、以上单价已包含产品包装费、税费、运</tspan><tspan x="6" dy="15.4">输费等一切费用。</tspan></text></g>
<g id="a4-3c" class="n" transform="translate(180,2835)"><rect width="229" height="41.8"/><text><tspan x="6" y="17.5">三、付款方式：供方按要求将样品送交乙</tspan><tspan x="6" dy="15.4">方确认，验收合格后付清全部货款。</tspan></text></g>
<g id="a4-3d" class="n" transform="translate(193,2957)"><rect width="216" height="26.4"/><text><tspan x="6" y="17.5">四、质量标准：按照国家相关验收标准</tspan></text></g>
<g id="a4-3e" class="n" transform="translate(277,3117)"><rect width="132" height="26.4"/><text><tspan x="6" y="17.5">五、合同双方违约责任</tspan></text></g>
<g id="a4-3f" class="n" transform="translate(158,3239)"><rect width="251" height="57.2"/><text><tspan x="6" y="17.5">六、本合同经双方签字盖章后生效，甲方</tspan><tspan x="6" dy="15.4">采购订单及附件作为本合同附件，与本合同具</tspan><tspan x="6" dy="15.4">有同等法律效力。</tspan></text></g>
<g id="a4-3g" class="n" transform="translate(180,3323)"><rect width="229" height="41.8"/><text><tspan x="6" y="17.5">七、本合同未尽事宜，或发生与本合同有</tspan><tspan x="6" dy="15.4">关的争议，由双方友好协商解决。</tspan></text></g>
<g id="a4-4" class="n" transform="translate(596,3392)"><rect width="87" height="26.4"/><text><tspan x="6" y="17.5">甲方：乙方:</tspan></text></g>
<g id="a4-5" class="n" transform="translate(524,3444)"><rect width="159" height="26.4"/><text><tspan x="6" y="17.5">法定代表人：法定代表人:</tspan></text></g>
<g id="a4-6" class="n" transform="translate(596,3498)"><rect width="87" height="26.4"/><text><tspan x="6" y="17.5">电话：电话:</tspan></text></g>
<g id="a4-6a" class="n" transform="translate(455,3498)"><rect width="118" height="26.4"/><text><tspan x="6" y="17.5">签约日期：年 月 日</tspan></text></g>

<!-- Article 6 -->
<g id="a6-1" class="n" transform="translate(555,3552)"><rect width="128" height="26.4"/><text><tspan x="6" y="17.5">供方：(以下简称甲方)</tspan></text></g>
<g id="a6-2" class="n" transform="translate(555,3605)"><rect width="128" height="26.4"/><text><tspan x="6" y="17.5">需方：(以下简称乙方)</tspan></text></g>
<g id="a6-3" class="n" transform="translate(432,3657)"><rect width="251" height="57.2"/><text><tspan x="6" y="17.5">为增强供需方的责任感和确保需方的正常生产</tspan><tspan x="6" dy="15.4">，经双方充分协商一致，特签订本合同，以供</tspan><tspan x="6" dy="15.4">双方遵守履行。</tspan></text></g>
<g id="a6-4" class="n" transform="translate(611,3741)"><rect width="72" height="26.4"/><text><tspan x="6" y="17.5">树种：杨木</tspan></text></g>
<g id="a6-5" class="n" transform="translate(581,3795)"><rect width="102" height="26.4"/><text><tspan x="6" y="17.5">成品：5厘胶合板</tspan></text></g>
<g id="a6-6" class="n" transform="translate(588,3848)"><rect width="95" height="26.4"/><text><tspan x="6" y="17.5">一、结算价格:</tspan></text></g>
<g id="a6-6a" class="n" transform="translate(460,3848)"><rect width="105" height="26.4"/><text><tspan x="6" y="17.5">每张人民币147元</tspan></text></g>
<g id="a6-7" class="n" transform="translate(432,4056)"><rect width="251" height="103.4"/><text><tspan x="6" y="17.5">二、五厘板的厚度在之间，共7层中间3层芯</tspan><tspan x="6" dy="15.4">板厚度各。马六甲面皮厚度各30条，最外面2</tspan><tspan x="6" dy="15.4">层椴木面皮厚度各30条，椴木面皮纹向是贴</tspan><tspan x="6" dy="15.4">横纹，椴木皮宽度在100mm~250mm之间(2</tspan><tspan x="6" dy="15.4">50mm左右的椴木面皮集中贴一面，100mm</tspan><tspan x="6" dy="15.4">~200mm的椴木面皮集中贴另外一面)。</tspan></text></g>
<g id="a6-7a" class="n" transform="translate(158,3900)"><rect width="251" height="41.8"/><text><tspan x="6" y="17.5">1、板面平整光洁，无腐朽、无死结(φ10</tspan><tspan x="6" dy="15.4">mm以上)。</tspan></text></g>
<g id="a6-7b" class="n" transform="translate(158,3968)"><rect width="251" height="57.2"/><text><tspan x="6" y="17.5">2、板面不得有鼓泡、开胶、透胶、虫</tspan><tspan x="6" dy="15.4">眼、腐朽、裂缝等现象，不可粘</tspan><tspan x="6" dy="15.4">接拼补。</tspan></text></g>
<g id="a6-7c" class="n" transform="translate(259,4052)"><rect width="150" height="26.4"/><text><tspan x="6" y="17.5">3、胶合板应使用环保胶。</tspan></text></g>
<g id="a6-7d" class="n" transform="translate(158,4106)"><rect width="251" height="41.8"/><text><tspan x="6" y="17.5">4、板材四边整齐，板面不能出现</tspan><tspan x="6" dy="15.4">翘曲、变形。</tspan></text></g>
<g id="a6-7e" class="n" transform="translate(158,4174)"><rect width="251" height="41.8"/><text><tspan x="6" y="17.5">5、如出现不符合以上质量标准的情况</tspan><tspan x="6" dy="15.4">，由供方负责更换。</tspan></text></g>
<g id="a6-7f" class="n" transform="translate(158,4242)"><rect width="251" height="103.4"/><text><tspan x="6" y="17.5">6、结算方式：货到三十天结帐，需</tspan><tspan x="6" dy="15.4">方按实际收货数量及合同单价计算货款，</tspan><tspan x="6" dy="15.4">以现金或银行转帐的方式</tspan><tspan x="6" dy="15.4">支付。供方送货时须有续单配套</tspan><tspan x="6" dy="15.4">，否则一切后果由供方承</tspan><tspan x="6" dy="15.4">担。</tspan></text></g>
<g id="a6-8" class="n" transform="translate(588,4641)"><rect width="95" height="26.4"/><text><tspan x="6" y="17.5">三、违约责任:</tspan></text></g>
<g id="a6-8a" class="n" transform="translate(314,4373)"><rect width="251" height="41.8"/><text><tspan x="6" y="17.5">1、供方不能交货的，按不能交货部分货款总</tspan><tspan x="6" dy="15.4">值的%向需方偿付违约金。</tspan></text></g>
<g id="a6-8b" class="n" transform="translate(314,4445)"><rect width="251" height="57.2"/><text><tspan x="6" y="17.5">2、供方逾期交货的(宽限期两天)，如超过宽</tspan><tspan x="6" dy="15.4">限期的，按不能交货的货款的日1%向需方偿</tspan><tspan x="6" dy="15.4">付违约金。</tspan></text></g>
<g id="a6-8c" class="n" transform="translate(314,4528)"><rect width="251" height="57.2"/><text><tspan x="6" y="17.5">3、供方交货数量不足的，需方仍然需要的，</tspan><tspan x="6" dy="15.4">供方应当照数补交，并按期交货。无法补办的</tspan><tspan x="6" dy="15.4">，按不能交货处理;</tspan></text></g>
<g id="a6-8d" class="n" transform="translate(314,4610)"><rect width="251" height="88"/><text><tspan x="6" y="17.5">4、供方交货的产品不符合质量要求和技术标</tspan><tspan x="6" dy="15.4">准的，供方应负责收回和更换，因更换导致不</tspan><tspan x="6" dy="15.4">能交货或者交货时间延期的，按不能交货或者</tspan><tspan x="6" dy="15.4">逾期交货处理。供方未更换或者更换的数量不</tspan><tspan x="6" dy="15.4">足的，按交货数量不足论处;</tspan></text></g>
<g id="a6-8e" class="n" transform="translate(314,4725)"><rect width="251" height="41.8"/><text><tspan x="6" y="17.5">5、供方应负责需方在生产过程中所出现的第</tspan><tspan x="6" dy="15.4">一次质量问题(负责胶合板的退货);</tspan></text></g>
<g id="a6-8f" class="n" transform="translate(314,4793)"><rect width="251" height="72.6"/><text><tspan x="6" y="17.5">6、需方无故拒收供方产品或者中途无故退货</tspan><tspan x="6" dy="15.4">的，应按拒收或者退货部分产品货款总值的1</tspan><tspan x="6" dy="15.4">%向供方偿付违约金。另：对供方已制成的</tspan><tspan x="6" dy="15.4">产品，应按70%向供方偿付违约金;</tspan></text></g>
<g id="a6-8g" class="n" transform="translate(314,4894)"><rect width="251" height="41.8"/><text><tspan x="6" y="17.5">7、需方逾期付款的(宽限期6天)，应按该货款</tspan><tspan x="6" dy="15.4">总值的日1%向供方偿付违约金。</tspan></text></g>
<g id="a6-9" class="n" transform="translate(552,4977)"><rect width="131" height="26.4"/><text><tspan x="6" y="17.5">四、争议的解决办法:</tspan></text></g>
<g id="a6-9a" class="n" transform="translate(279,4961)"><rect width="251" height="57.2"/><text><tspan x="6" y="17.5">本合同在履行中发生的争议，应当尽量通过</tspan><tspan x="6" dy="15.4">协商解决。协商不成时，任何一方均可向合同</tspan><tspan x="6" dy="15.4">签订地人民法院起诉。</tspan></text></g>
<g id="a6-10" class="n" transform="translate(432,5170)"><rect width="251" height="41.8"/><text><tspan x="6" y="17.5">五、本合同自签订日起生效。合同一式两份，</tspan><tspan x="6" dy="15.4">供、需双方各执一份。</tspan></text></g>
<g id="a6-10a" class="n" transform="translate(265,5045)"><rect width="144" height="26.4"/><text><tspan x="6" y="17.5">供方（盖章）：________</tspan></text></g>
<g id="a6-10b" class="n" transform="translate(265,5098)"><rect width="144" height="26.4"/><text><tspan x="6" y="17.5">需方（盖章）：________</tspan></text></g>
<g id="a6-10c" class="n" transform="translate(229,5151)"><rect width="180" height="26.4"/><text><tspan x="6" y="17.5">法定代表人（签字）：________</tspan></text></g>
<g id="a6-10d" class="n" transform="translate(229,5205)"><rect width="180" height="26.4"/><text><tspan x="6" y="17.5">法定代表人（签字）：________</tspan></text></g>
<g id="a6-10e" class="n" transform="translate(241,5258)"><rect width="168" height="26.4"/><text><tspan x="6" y="17.5">签订日期：____年___月___日</tspan></text></g>
<g id="a6-10f" class="n" transform="translate(241,5311)"><rect width="168" height="26.4"/><text><tspan x="6" y="17.5">签订日期：____年___月___日</tspan></text></g>

<g id="watermarks">
<use xlink:href="#wm" transform="translate(356,684) rotate(-27)"/>
<use xlink:href="#wm" transform="translate(1636,684) rotate(-27)"/>
<use xlink:href="#wm" transform="translate(356,1684) rotate(-27)"/>
<use xlink:href="#wm" transform="translate(1636,1684) rotate(-27)"/>
<use xlink:href="#wm" transform="translate(356,2684) rotate(-27)"/>
<use xlink:href="#wm" transform="translate(1636,2684) rotate(-27)"/>
<use xlink:href="#wm" transform="translate(356,3684) rotate(-27)"/>
<use xlink:href="#wm" transform="translate(1636,3684) rotate(-27)"/>
<use xlink:href="#wm" transform="translate(356,4684) rotate(-27)"/>
<use xlink:href="#wm" transform="translate(1636,4684) rotate(-27)"/>
<use xlink:href="#wm" transform="translate(356,5684) rotate(-27)"/>
<use xlink:href="#wm" transform="translate(1636,5684) rotate(-27)"/>
<use xlink:href="#wm" transform="translate(356,6684) rotate(-27)"/>
<use xlink:href="#wm" transform="translate(1636,6684) rotate(-27)"/>
</g>
</g>
</svg>
